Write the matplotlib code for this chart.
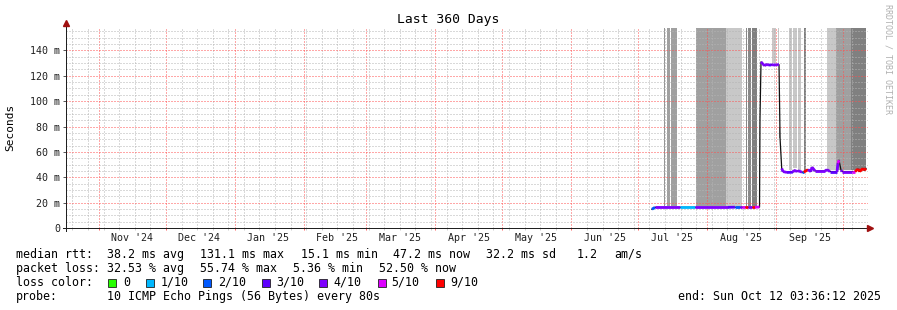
import numpy as np
import pandas as pd
import matplotlib
matplotlib.use('Agg')
import matplotlib.pyplot as plt
import matplotlib.dates as mdates
from matplotlib.lines import Line2D
from matplotlib.patches import Rectangle
from matplotlib.collections import LineCollection

# window
t_start = pd.Timestamp('2024-10-17 03:36:12')
t_end = pd.Timestamp('2025-10-12 03:36:12')

# median rtt (ms) and loss bin index of the segment starting at each point (-1 = no colour)
med_time = ['2025-07-07 04:00', '2025-07-08 13:00', '2025-07-19 18:00', '2025-07-26 12:00',
            '2025-08-10 07:00', '2025-08-13 10:00', '2025-08-15 17:00', '2025-08-16 11:00',
            '2025-08-18 00:00', '2025-08-19 07:00', '2025-08-21 02:00', '2025-08-22 10:00',
            '2025-08-24 11:00', '2025-08-24 16:00', '2025-08-25 03:00', '2025-08-25 20:00',
            '2025-08-26 18:00', '2025-08-27 20:00', '2025-08-28 18:00', '2025-08-29 20:00',
            '2025-08-31 00:00', '2025-09-01 12:00', '2025-09-02 05:00', '2025-09-02 16:00',
            '2025-09-03 10:00', '2025-09-04 00:00', '2025-09-05 19:00', '2025-09-08 12:00',
            '2025-09-08 22:00', '2025-09-10 07:00', '2025-09-10 17:00', '2025-09-12 13:00',
            '2025-09-13 07:00', '2025-09-15 05:00', '2025-09-16 12:00', '2025-09-17 00:00',
            '2025-09-18 09:00', '2025-09-22 20:00', '2025-09-23 18:00', '2025-09-25 02:00',
            '2025-09-28 06:00', '2025-09-28 16:00', '2025-09-29 03:00', '2025-09-30 01:00',
            '2025-09-30 12:00', '2025-10-04 23:00', '2025-10-06 08:00', '2025-10-07 16:00',
            '2025-10-08 10:00', '2025-10-09 22:00', '2025-10-10 12:00', '2025-10-11 06:00']
med_rtt = [14.8, 16.3, 16.3, 16.3, 16.3, 16.4, 16.4, 16.4, 16.4, 16.4, 16.4, 16.4,
           16.5, 86.5, 131.0, 129.5, 128.0, 129.2, 128.2, 128.8, 128.5, 128.7, 128.8, 71.0,
           47.0, 44.5, 43.8, 44.0, 45.6, 44.5, 45.2, 44.0, 44.0, 46.0, 44.5, 48.0,
           45.0, 45.0, 46.0, 44.5, 44.5, 51.0, 53.5, 45.6, 44.5, 44.5, 44.5, 46.5,
           44.5, 47.0, 45.5, 47.0]
med_loss = [2, 4, 1, 4, 3, 2, 4, 5, 6, 4, 6, 5,
            -1, -1, 4, 4, 4, 4, 3, 4, 4, 4, -1, -1,
            4, 4, 3, 4, 4, 4, 4, 2, 6, 4, 4, 4,
            4, 4, 4, 3, 4, 5, -1, 4, 4, 5, 6, 6,
            6, 6, 6, -1]

# smoke bands: start, end, lower edge (ms), upper edge (ms), grey
smoke_start = ['2025-07-12 14:00', '2025-07-13 22:00', '2025-07-15 17:00', '2025-07-26 19:00',
               '2025-08-09 07:00', '2025-08-18 09:00', '2025-08-19 07:00', '2025-08-21 02:00',
               '2025-08-30 01:00', '2025-09-01 15:00', '2025-09-02 05:00', '2025-09-06 17:00',
               '2025-09-08 12:00', '2025-09-10 17:00', '2025-09-13 07:00', '2025-09-23 18:00',
               '2025-09-27 19:00', '2025-10-04 13:00']
smoke_end = ['2025-07-13 01:00', '2025-07-15 06:00', '2025-07-18 10:00', '2025-08-09 07:00',
             '2025-08-16 11:00', '2025-08-18 20:00', '2025-08-20 15:00', '2025-08-23 08:00',
             '2025-08-31 17:00', '2025-09-02 05:00', '2025-09-02 20:00', '2025-09-08 04:00',
             '2025-09-10 07:00', '2025-09-12 05:00', '2025-09-14 04:00', '2025-09-27 19:00',
             '2025-10-04 13:00', '2025-10-11 06:00']
smoke_lo = [17.5, 17.5, 17.5, 17.5, 17.5, 17.5, 17.5, 17.5,
            130, 129, 71, 46, 47, 46, 45, 46, 46, 46]
smoke_hi = [160, 160, 160, 160, 160, 160, 160, 160,
            160, 160, 80, 160, 160, 160, 160, 160, 160, 160]
smoke_col = ['#959595', '#a0a0a0', '#a0a0a0', '#a0a0a0', '#c8c8c8', '#888888', '#888888', '#808080',
             '#cbc6c6', '#c8c8c8', '#a0a0a0', '#c8c8c8', '#c8c8c8', '#c8c8c8', '#808080', '#c8c8c8',
             '#a0a0a0', '#808080']

loss_labels = ['0', '1/10', '2/10', '3/10', '4/10', '5/10', '9/10']
loss_colors = ['#26ff00', '#00b8ff', '#0059ff', '#5e00ff', '#7e00ff', '#dd00ff', '#ff0000']

y_major = [0, 20, 40, 60, 80, 100, 120, 140]
y_labels = ['0' if v == 0 else f'{v} m' for v in y_major]

W, H = 897, 310
MONO = 'DejaVu Sans Mono'

def fx(x):
    return x / W

def fy(y):
    return 1 - y / H

fig = plt.figure(figsize=(W / 100, H / 100), dpi=100)
fig.patch.set_facecolor('white')
ax = fig.add_axes([fx(66), fy(228), 802 / W, 200 / H])
ax.set_facecolor('white')

x0, x1 = mdates.date2num(t_start), mdates.date2num(t_end)
ax.set_xlim(x0, x1)
ax.set_ylim(0, 157.7)

# smoke
for s, e, lo, hi, c in zip(smoke_start, smoke_end, smoke_lo, smoke_hi, smoke_col):
    a, b = mdates.date2num(pd.Timestamp(s)), mdates.date2num(pd.Timestamp(e))
    ax.fill_between([a, b], [lo, lo], [hi, hi], color=c, lw=0, zorder=1)

# median
tn = mdates.date2num(pd.to_datetime(med_time))
ax.plot(tn, med_rtt, color='#101010', lw=0.9, zorder=3)
segs, cols = [], []
for i in range(len(tn) - 1):
    if med_loss[i] >= 0:
        segs.append([(tn[i], med_rtt[i]), (tn[i + 1], med_rtt[i + 1])])
        cols.append(loss_colors[med_loss[i]])
ax.add_collection(LineCollection(segs, colors=cols, linewidths=2.0, capstyle='butt', zorder=4))

# grid
months = pd.date_range('2024-11-01', '2025-10-01', freq='MS')
weeks = pd.date_range('2024-10-20', '2025-10-12', freq='7D')
ax.set_xticks(mdates.date2num(months))
ax.set_xticks(mdates.date2num(weeks), minor=True)
ax.set_yticks(y_major)
ax.set_yticks(np.arange(0, 158, 5), minor=True)
ax.set_yticklabels(y_labels, fontsize=7.2, family=MONO, color='#202020')
ax.set_xticklabels([])
ax.set_xticklabels([], minor=True)
ax.set_axisbelow(False)
ax.grid(which='major', color='#ff5050', alpha=0.5, lw=0.75, ls=(0, (1, 1)), antialiased=False)
ax.grid(which='minor', color='#b4b4b4', alpha=0.5, lw=0.75, ls=(0, (1, 1)), antialiased=False)
ax.tick_params(axis='y', which='major', length=2.2, width=0.7, pad=2.2, color='#555555')
ax.tick_params(axis='y', which='minor', length=0)
ax.tick_params(axis='x', which='major', length=1.5, width=0.7, color='#ff6060')
ax.tick_params(axis='x', which='minor', length=1.5, width=0.7, color='#cccccc')
for sp in ax.spines.values():
    sp.set_visible(False)

# month labels in the middle of each month
for m in months[:-1]:
    mid = mdates.date2num(m + pd.Timedelta(days=15))
    ax.text(mid, -0.05, m.strftime("%b '%y"), transform=ax.get_xaxis_transform(),
            ha='center', va='center', fontsize=7.2, family=MONO, color='#202020')

# axes lines with arrows
fig.add_artist(Line2D([fx(63), fx(869)], [fy(228), fy(228)], color='#202020', lw=0.72, antialiased=False))
fig.add_artist(Line2D([fx(66), fx(66)], [fy(231), fy(24)], color='#202020', lw=0.72, antialiased=False))
fig.add_artist(Line2D([fx(870)], [fy(228)], marker='>', ms=4, color='#a01010', lw=0))
fig.add_artist(Line2D([fx(66)], [fy(23)], marker='^', ms=4, color='#a01010', lw=0))

fig.text(fx(448), fy(20), 'Last 360 Days', ha='center', va='center', fontsize=9.4, family=MONO)
fig.text(fx(10.5), fy(127.7), 'Seconds', rotation=90, ha='center', va='center', fontsize=8, family=MONO)
fig.text(fx(888), fy(59), 'RRDTOOL / TOBI OETIKER', rotation=270, ha='center', va='center',
         fontsize=6, family=MONO, color='#b0b0b0')

# legend
fs = 8.4
rows = [
    (254.3, [(16, 'median rtt:'), (107, '38.2 ms avg'), (200, '131.1 ms max'), (300.7, '15.1 ms min'),
             (393, '47.2 ms now'), (485.7, '32.2 ms sd'), (576.7, '1.2'), (614, 'am/s')]),
    (268.3, [(16, 'packet loss:'), (107, '32.53 % avg'), (200, '55.74 % max'), (293.3, '5.36 % min'),
             (379.3, '52.50 % now')]),
    (282.3, [(16, 'loss color:')]),
    (296.3, [(16, 'probe:'), (107, '10 ICMP Echo Pings (56 Bytes) every 80s')]),
]
for y, items in rows:
    for x, s in items:
        fig.text(fx(x), fy(y), s, ha='left', va='center', fontsize=fs, family=MONO)

box_x = [108.3, 145.7, 203.3, 261.7, 319.3, 377.7, 435.7]
lab_x = [123.3, 160.7, 218.3, 276, 333.3, 391.7, 450]
for bx, lx, lab, c in zip(box_x, lab_x, loss_labels, loss_colors):
    fig.add_artist(Rectangle((fx(bx), fy(286.5)), 8 / W, 8 / H, transform=fig.transFigure,
                             facecolor=c, edgecolor='#202020', lw=0.6))
    fig.text(fx(lx), fy(282.3), lab, ha='left', va='center', fontsize=fs, family=MONO)

fig.text(fx(881), fy(296.3), 'end: Sun Oct 12 03:36:12 2025', ha='right', va='center',
         fontsize=fs, family=MONO)

fig.savefig('out.png', dpi=100, facecolor='white')
